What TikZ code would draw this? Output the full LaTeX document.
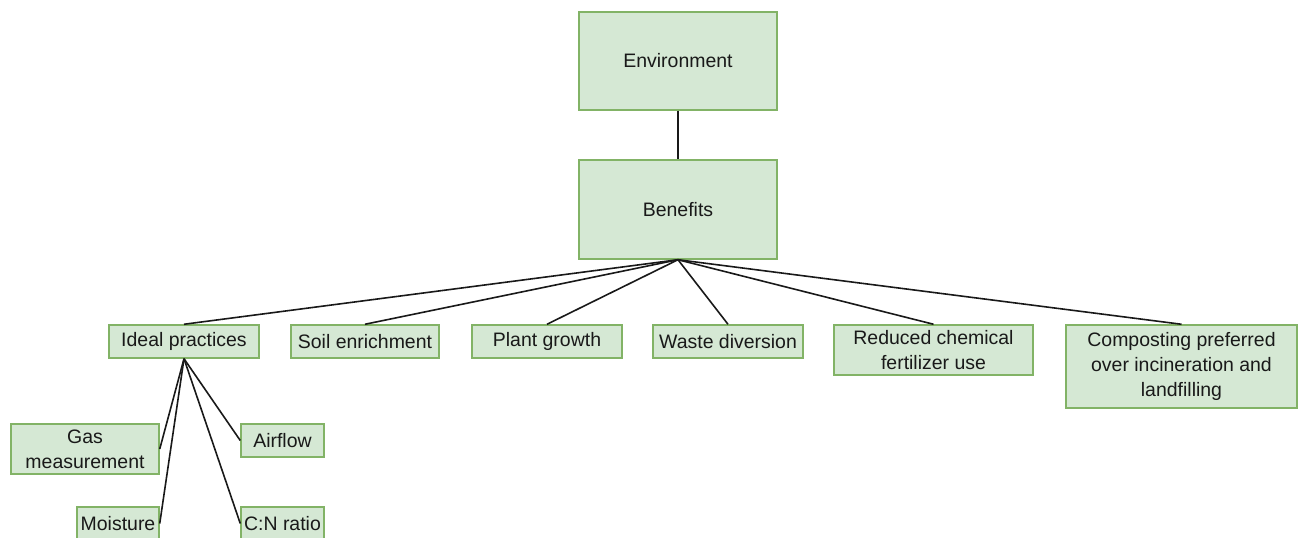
\documentclass[tikz,border=0pt]{standalone}
\usepackage{fontspec}
\setmainfont{Liberation Sans}
\definecolor{boxfill}{HTML}{D5E8D4}
\definecolor{boxline}{HTML}{82B366}
\begin{document}
\begin{tikzpicture}[x=0.75pt,y=-0.75pt,
  box/.style={draw=boxline, fill=boxfill, line width=1.1pt, inner sep=0pt,
    align=center, font=\fontsize{14.6pt}{18.75pt}\selectfont, text=black!90},
  link/.style={draw=black!90, line width=1.2pt}]
\useasboundingbox (0,0) rectangle (1304,538);
% top of the tree
\node[box, minimum width=148.5pt, minimum height=73.5pt] (env) at (678,61) {Environment};
\node[box, minimum width=148.5pt, minimum height=74.25pt] (ben) at (678,209.5) {Benefits};
% benefit categories
\node[box, minimum width=112.5pt, minimum height=24.75pt] (ideal) at (184,341.5) {Ideal practices};
\node[box, minimum width=111pt, minimum height=24.75pt] (soil) at (365,341.5) {Soil enrichment};
\node[box, minimum width=112.5pt, minimum height=24.75pt] (plant) at (547,341.5) {Plant growth};
\node[box, minimum width=112.5pt, minimum height=24.75pt] (waste) at (728,341.5) {Waste diversion};
\node[box, minimum width=149.25pt, minimum height=37.5pt] (fert) at (933.5,350) {Reduced chemical\\fertilizer use};
\node[box, minimum width=173.25pt, minimum height=62.25pt] (comp) at (1181.5,366.5) {Composting preferred\\over incineration and\\landfilling};
% practices
\node[box, minimum width=111pt, minimum height=37.5pt] (gas) at (85,449) {Gas\\measurement};
\node[box, minimum width=62.25pt, minimum height=24.75pt] (air) at (282.5,440.5) {Airflow};
\node[box, minimum width=61.5pt, minimum height=24.75pt] (moist) at (118,523.5) {Moisture};
\node[box, minimum width=62.25pt, minimum height=24.75pt] (cn) at (282.5,523.5) {C:N ratio};
% connectors
\draw[link] (env.south) -- (ben.north);
\foreach \n in {ideal,soil,plant,waste,fert,comp}
  \draw[link] (ben.south) -- (\n.north);
\draw[link] (ideal.south) -- (gas.east);
\draw[link] (ideal.south) -- (moist.east);
\draw[link] (ideal.south) -- (air.west);
\draw[link] (ideal.south) -- (cn.west);
\end{tikzpicture}
\end{document}
